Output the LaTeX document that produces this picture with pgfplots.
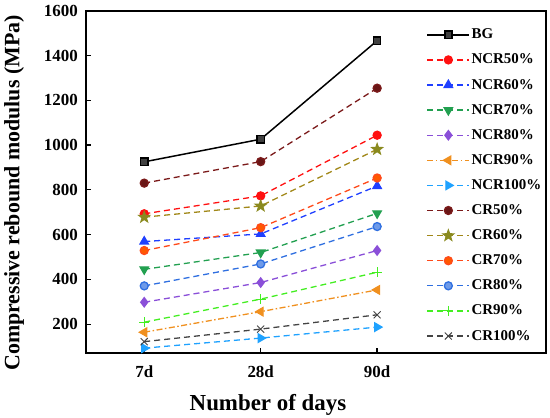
\documentclass[border=0pt]{standalone}
\usepackage{fontspec}
\setmainfont{Liberation Serif}
\usepackage{pgfplots}
\pgfplotsset{compat=1.18}
\pgfdeclareplotmark{fstar}{%
  \pgfpathmoveto{\pgfpointpolar{90}{1.35\pgfplotmarksize}}%
  \pgfpathlineto{\pgfpointpolar{126}{0.55\pgfplotmarksize}}%
  \pgfpathlineto{\pgfpointpolar{162}{1.35\pgfplotmarksize}}%
  \pgfpathlineto{\pgfpointpolar{198}{0.55\pgfplotmarksize}}%
  \pgfpathlineto{\pgfpointpolar{234}{1.35\pgfplotmarksize}}%
  \pgfpathlineto{\pgfpointpolar{270}{0.55\pgfplotmarksize}}%
  \pgfpathlineto{\pgfpointpolar{306}{1.35\pgfplotmarksize}}%
  \pgfpathlineto{\pgfpointpolar{342}{0.55\pgfplotmarksize}}%
  \pgfpathlineto{\pgfpointpolar{18}{1.35\pgfplotmarksize}}%
  \pgfpathlineto{\pgfpointpolar{54}{0.55\pgfplotmarksize}}%
  \pgfpathclose\pgfusepathqfillstroke}
\definecolor{cNCRa}{HTML}{FF1010}
\definecolor{cNCRb}{HTML}{1F3FFF}
\definecolor{cNCRc}{HTML}{22A050}
\definecolor{cNCRd}{HTML}{8A4FD8}
\definecolor{cNCRe}{HTML}{F0901F}
\definecolor{cNCRf}{HTML}{1FA2FF}
\definecolor{cCRa}{HTML}{7B1A1A}
\definecolor{cCRb}{HTML}{8A8A1F}
\definecolor{cCRc}{HTML}{FF4A1A}
\definecolor{cCRd}{HTML}{2F6FE0}
\definecolor{cCRe}{HTML}{44EE22}
\definecolor{cCRf}{HTML}{444444}
\tikzset{dsh/.style={dash pattern=on 6bp off 4bp}, dd/.style={dash pattern=on 6bp off 2.5bp on 1.5bp off 2.5bp}}
\begin{document}
\begin{tikzpicture}
\begin{axis}[
  scale only axis, width=460bp, height=342.6bp,
  xmin=-0.5, xmax=3.45, ymin=70, ymax=1600,
  xtick={0,1,2}, xticklabels={7d,28d,90d},
  ytick={200,400,...,1600},
  tick align=inside, major tick length=5bp,
  xtick pos=bottom, ytick pos=left,
  axis line style={line width=1.8bp},
  every tick/.style={black, line width=1.3bp},
  /pgf/number format/assume math mode=true,
  /pgf/number format/1000 sep={},
  every tick label/.append style={font=\fontsize{17}{17}\selectfont\bfseries},
  yticklabel style={anchor=east, inner sep=0pt, xshift=-8bp},
  xticklabel style={anchor=base, inner sep=0pt, yshift=-23.7bp},
  clip=false,
  legend image code/.code={\draw[mark repeat=2,mark phase=2] plot coordinates {(0bp,0bp) (21bp,0bp) (42bp,0bp)};},
  legend style={at={(rel axis cs:0.74,0.955)}, anchor=north west, draw=none, fill=none,
    font=\fontsize{15}{15}\selectfont\bfseries, inner sep=0pt, row sep=8.1bp,
    nodes={text height=11bp, text depth=3bp, inner sep=1.5bp}},
  legend cell align=left,
  mark size=4bp,
]
\addplot[black, line width=1.5bp, mark=square*, mark size=3.6bp, mark options={fill=black!75, draw=black, solid}] coordinates {(0,925) (1,1026) (2,1466)};
\addlegendentry{BG}
\addplot[cNCRa, line width=1.3bp, dsh, mark=*, mark options={solid, fill=cNCRa}] coordinates {(0,693) (1,773) (2,1044)};
\addlegendentry{NCR50\%}
\addplot[cNCRb, line width=1.3bp, dsh, mark=triangle*, mark size=4.8bp, mark options={solid, fill=cNCRb}] coordinates {(0,569) (1,603) (2,817)};
\addlegendentry{NCR60\%}
\addplot[cNCRc, line width=1.3bp, dsh, mark=triangle*, mark size=4.8bp, mark options={solid, rotate=180, fill=cNCRc}] coordinates {(0,445) (1,520) (2,695)};
\addlegendentry{NCR70\%}
\addplot[cNCRd, line width=1.3bp, dsh, mark=diamond*, mark size=4.6bp, mark options={solid, fill=cNCRd}] coordinates {(0,298) (1,386) (2,529)};
\addlegendentry{NCR80\%}
\addplot[cNCRe, line width=1.3bp, dd, mark=triangle*, mark size=4.8bp, mark options={solid, rotate=90, fill=cNCRe}] coordinates {(0,164) (1,256) (2,353)};
\addlegendentry{NCR90\%}
\addplot[cNCRf, line width=1.3bp, dsh, mark=triangle*, mark size=4.8bp, mark options={solid, rotate=-90, fill=cNCRf}] coordinates {(0,93) (1,138) (2,187)};
\addlegendentry{NCR100\%}
\addplot[cCRa, line width=1.3bp, dsh, mark=*, mark options={solid, fill=cCRa!85!black}] coordinates {(0,830) (1,926) (2,1254)};
\addlegendentry{CR50\%}
\addplot[cCRb!80!orange, line width=1.3bp, dsh, mark=fstar, mark size=4bp, mark options={solid, fill=cCRb, draw=cCRb}] coordinates {(0,678) (1,728) (2,981)};
\addlegendentry{CR60\%}
\addplot[cCRc, line width=1.3bp, dsh, mark=*, mark options={solid, fill=orange!70!red, draw=cCRc}] coordinates {(0,529) (1,631) (2,853)};
\addlegendentry{CR70\%}
\addplot[cCRd, line width=1.3bp, dsh, mark=*, mark options={solid, fill=cCRd!70!white, draw=cCRd}] coordinates {(0,371) (1,469) (2,636)};
\addlegendentry{CR80\%}
\addplot[cCRe, line width=1.3bp, dsh, mark=+, mark size=5bp, mark options={solid, line width=1.1bp}] coordinates {(0,209) (1,312) (2,432)};
\addlegendentry{CR90\%}
\addplot[cCRf, line width=1.3bp, dsh, mark=x, mark size=5bp, mark options={solid, line width=0.9bp}] coordinates {(0,122) (1,178) (2,242)};
\addlegendentry{CR100\%}
\coordinate (SW) at (rel axis cs:0,0);
\end{axis}
\path (SW) ++(182bp,-56.7bp) node[anchor=base, inner sep=0pt, font=\fontsize{23}{23}\selectfont\bfseries] {Number of days};
\path (SW) ++(-72bp,160.3bp) node[rotate=90, anchor=center, inner sep=0pt, font=\fontsize{22}{22}\selectfont\bfseries] {Compressive rebound modulus (MPa)};
\pgfresetboundingbox
\path (SW) ++(-86bp,-64.7bp) rectangle ++(550bp,418bp);
\end{tikzpicture}
\end{document}
